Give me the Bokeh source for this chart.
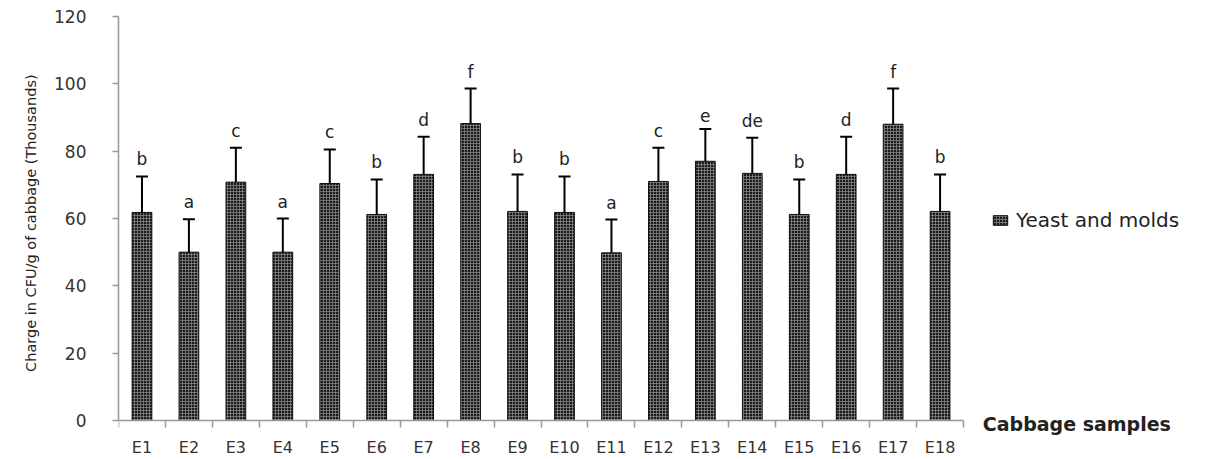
from bokeh.plotting import figure
from bokeh.models import ColumnDataSource, Whisker, FixedTicker, Legend, LegendItem, Label
from bokeh.core.properties import value
from bokeh.embed import file_html
from bokeh.resources import INLINE

samples = ["E1", "E2", "E3", "E4", "E5", "E6", "E7", "E8", "E9", "E10",
           "E11", "E12", "E13", "E14", "E15", "E16", "E17", "E18"]
yeast_molds = [61.8, 50.0, 70.8, 50.0, 70.4, 61.2, 73.1, 88.2, 62.1, 61.8,
               49.8, 71.0, 77.0, 73.4, 61.2, 73.1, 88.0, 62.1]
errors = [10.7, 9.8, 10.2, 10.0, 10.1, 10.4, 11.2, 10.4, 11.0, 10.7,
          9.9, 10.0, 9.6, 10.6, 10.4, 11.2, 10.6, 11.0]
letters = ["b", "a", "c", "a", "c", "b", "d", "f", "b", "b",
           "a", "c", "e", "de", "b", "d", "f", "b"]
y_ticks = [0, 20, 40, 60, 80, 100, 120]

xs = list(range(1, len(samples) + 1))
src = ColumnDataSource(dict(
    x=xs, top=yeast_molds,
    upper=[v + e for v, e in zip(yeast_molds, errors)],
    lower=[v - e for v, e in zip(yeast_molds, errors)],
    lab=letters,
))

FONT = "DejaVu Sans"
n = len(samples)
p = figure(width=1210, height=457, output_backend="svg", toolbar_location=None,
           x_range=(0.5, 23.76), y_range=(-10.99, 120),
           min_border_left=118, min_border_right=0, min_border_top=16, min_border_bottom=0)
p.outline_line_color = None
p.grid.visible = False
p.background_fill_color = "white"

bars = p.vbar(x="x", top="top", width=0.42, source=src,
              fill_color="#1a1a1a", line_color="#111111", line_width=1,
              hatch_pattern="cross", hatch_color="#878787", hatch_scale=3.0, hatch_weight=0.8)

w = Whisker(base="x", upper="upper", lower="lower", source=src,
            line_color="black", line_width=2)
w.upper_head.size = 12
w.lower_head.size = 12
w.upper_head.line_width = 2
w.lower_head.line_width = 3
p.add_layout(w)

p.text(x="x", y="upper", text="lab", source=src, text_align="center",
       text_baseline="bottom", y_offset=-7, text_font=value(FONT),
       text_font_size="17px", text_color="#222222")

# axes
xa = p.xaxis[0]
xa.fixed_location = 0
xa.bounds = (0.5, n + 0.5)
xa.ticker = FixedTicker(ticks=xs, minor_ticks=[i + 0.5 for i in range(0, n + 1)])
xa.major_label_overrides = {i: s for i, s in zip(xs, samples)}
xa.major_tick_line_color = None
xa.minor_tick_in = 0
xa.minor_tick_out = 7
xa.minor_tick_line_color = "#999999"
xa.minor_tick_line_width = 1.5
xa.axis_line_color = "#999999"
xa.axis_line_width = 1.5
xa.major_label_text_font = FONT
xa.major_label_text_font_size = "16px"
xa.major_label_text_color = "#333333"
xa.major_label_standoff = 10

ya = p.yaxis[0]
ya.bounds = (0, 120)
ya.ticker = FixedTicker(ticks=y_ticks)
ya.minor_tick_line_color = None
ya.major_tick_in = 0
ya.major_tick_out = 6
ya.major_tick_line_color = "#999999"
ya.major_tick_line_width = 1.5
ya.axis_line_color = "#999999"
ya.axis_line_width = 1.5
ya.major_label_text_font = FONT
ya.major_label_text_font_size = "17px"
ya.major_label_text_color = "#333333"
ya.major_label_standoff = 26
ya.axis_label = "\u00a0" * 8 + "Charge in CFU/g of cabbage   (Thousands)"
ya.axis_label_text_font = FONT
ya.axis_label_text_font_style = "normal"
ya.axis_label_text_font_size = "14.5px"
ya.axis_label_text_color = "#222222"
ya.axis_label_standoff = 12

p.add_layout(Label(x=n + 0.91, y=-0.9, text="Cabbage samples", text_font=FONT,
                   text_font_size="19px", text_font_style="bold", text_color="#222222",
                   text_baseline="middle"))

legend = Legend(items=[LegendItem(label="Yeast and molds", renderers=[bars])],
                location=(873, 225), border_line_color=None, background_fill_alpha=0,
                label_text_font=FONT, label_text_font_size="20px", label_text_color="#222222",
                glyph_width=18, glyph_height=12, label_standoff=7, padding=0, margin=0)
p.add_layout(legend, "center")

open("out.html", "w").write(file_html(p, INLINE))
